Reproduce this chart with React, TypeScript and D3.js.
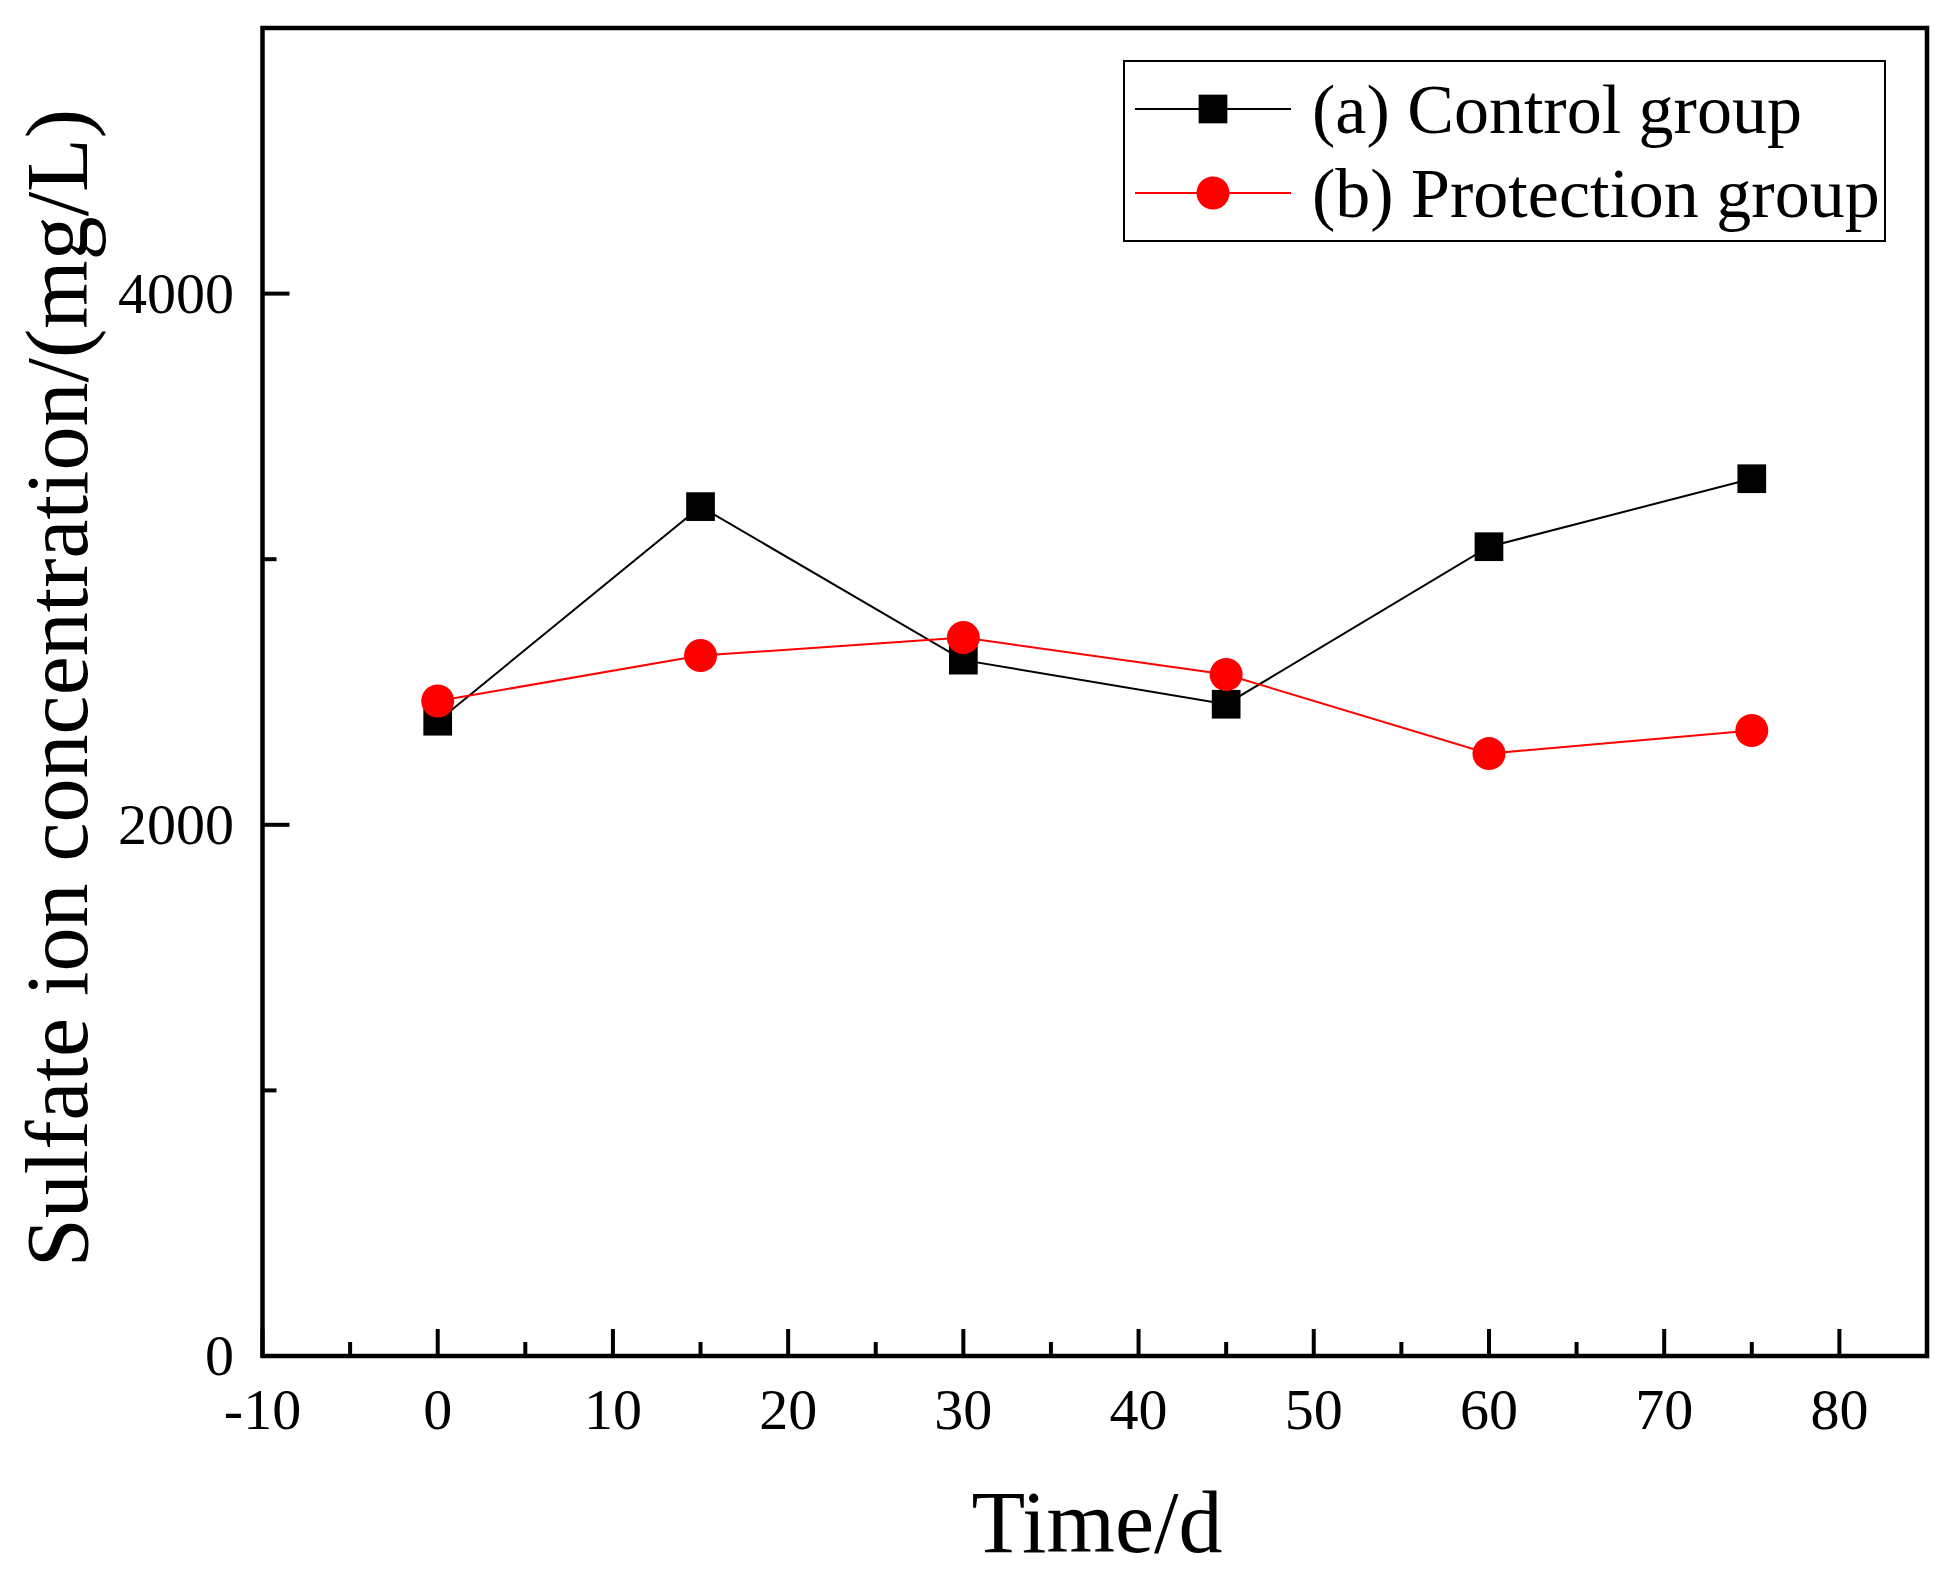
import React from "react";
import * as d3 from "d3";

const days = [0, 15, 30, 45, 60, 75];
const controlGroup = [2390, 3198, 2620, 2454, 3047, 3303];
const protectionGroup = [2466, 2637, 2705, 2566, 2268, 2355];
const xMajorTicks = [-10, 0, 10, 20, 30, 40, 50, 60, 70, 80];
const xMinorTicks = [-5, 5, 15, 25, 35, 45, 55, 65, 75];
const yMajorTicks = [0, 2000, 4000];
const yMinorTicks = [1000, 3000, 5000];
const seriesNames = ["(a) Control group", "(b) Protection group"];

const W = 1954;
const H = 1578;
const L = 262.5, R = 1927, T = 28, B = 1356;
const FONT = "'Liberation Serif', 'Times New Roman', serif";

export default function App() {
  const x = d3.scaleLinear().domain([-10, 85]).range([L, R]);
  const y = d3.scaleLinear().domain([0, 5000]).range([B, T]);
  const line = d3
    .line<number>()
    .x((_, i) => x(days[i]))
    .y((d) => y(d));

  const sq = 28.7;
  const cr = 16.5;

  return (
    <svg
      width={W}
      height={H}
      style={{ position: "absolute", left: 0, top: 0, background: "#fff" }}
      fontFamily={FONT}
    >
      <rect x={0} y={0} width={W} height={H} fill="#fff" />
      {/* ticks */}
      {xMajorTicks.map((t) => (
        <line key={"xM" + t} x1={x(t)} x2={x(t)} y1={B} y2={B - 27} stroke="#000" strokeWidth={4} />
      ))}
      {xMinorTicks.map((t) => (
        <line key={"xm" + t} x1={x(t)} x2={x(t)} y1={B} y2={B - 14} stroke="#000" strokeWidth={4} />
      ))}
      {yMajorTicks.map((t) => (
        <line key={"yM" + t} x1={L} x2={L + 27} y1={y(t)} y2={y(t)} stroke="#000" strokeWidth={4} />
      ))}
      {yMinorTicks.map((t) => (
        <line key={"ym" + t} x1={L} x2={L + 14} y1={y(t)} y2={y(t)} stroke="#000" strokeWidth={4} />
      ))}
      {/* tick labels */}
      {xMajorTicks.map((t) => (
        <text key={"xl" + t} x={x(t)} y={1429} fontSize={58} textAnchor="middle" fill="#000">
          {t}
        </text>
      ))}
      {yMajorTicks.map((t) => (
        <text key={"yl" + t} x={234} y={y(t) + 19} fontSize={58} textAnchor="end" fill="#000">
          {t}
        </text>
      ))}
      {/* axis titles */}
      <text x={1097} y={1552} fontSize={88} textAnchor="middle" fill="#000">
        Time/d
      </text>
      <text
        transform={`translate(87,688) rotate(-90)`}
        fontSize={88}
        textAnchor="middle"
        fill="#000"
      >
        Sulfate ion concentration/(mg/L)
      </text>
      {/* series */}
      <path d={line(controlGroup) || ""} fill="none" stroke="#000" strokeWidth={2} />
      <path d={line(protectionGroup) || ""} fill="none" stroke="#ff0000" strokeWidth={2} />
      {controlGroup.map((v, i) => (
        <rect key={"s" + i} x={x(days[i]) - sq / 2} y={y(v) - sq / 2} width={sq} height={sq} fill="#000" />
      ))}
      {protectionGroup.map((v, i) => (
        <circle key={"c" + i} cx={x(days[i])} cy={y(v)} r={cr} fill="#ff0000" />
      ))}
      {/* frame */}
      <rect x={L} y={T} width={R - L} height={B - T} fill="none" stroke="#000" strokeWidth={4.5} />
      {/* legend */}
      <rect x={1124} y={61} width={761} height={180} fill="#fff" stroke="#000" strokeWidth={2} />
      <line x1={1135} x2={1291} y1={109} y2={109} stroke="#000" strokeWidth={2} />
      <rect x={1213 - sq / 2} y={109 - sq / 2} width={sq} height={sq} fill="#000" />
      <text x={1312} y={133} fontSize={70} fill="#000">
        {seriesNames[0]}
      </text>
      <line x1={1135} x2={1291} y1={193} y2={193} stroke="#ff0000" strokeWidth={2} />
      <circle cx={1213} cy={193} r={cr} fill="#ff0000" />
      <text x={1312} y={217} fontSize={70} fill="#000">
        {seriesNames[1]}
      </text>
    </svg>
  );
}
